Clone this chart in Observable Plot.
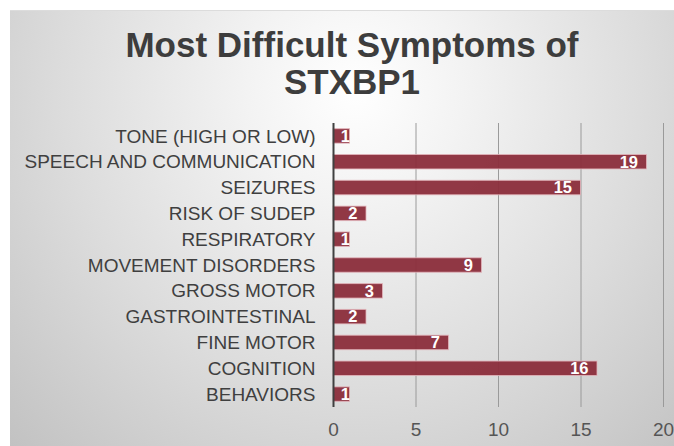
<!DOCTYPE html>
<html>
<head>
<meta charset="utf-8">
<script src="https://cdn.jsdelivr.net/npm/d3@7"></script>
<script src="https://cdn.jsdelivr.net/npm/@observablehq/plot@0.6"></script>
<style>
  html, body { margin: 0; padding: 0; background: #ffffff; }
  body { width: 674px; height: 446px; overflow: hidden; position: relative; }
  #panel {
    position: absolute; left: 10px; top: 10px; width: 664px; height: 436px;
    border-top: 1px solid #dcdcdc; box-sizing: border-box;
    background: radial-gradient(farthest-corner at 52% 18%, #ffffff 0%, #f3f3f3 22%, #dcdcdc 60%, #c2c2c2 100%);
    font-family: "Liberation Sans", Arial, Helvetica, sans-serif;
  }
  #title {
    box-sizing: border-box; height: 99px; padding-top: 15px; padding-left: 20px;
    text-align: center; font-size: 35px; line-height: 37px; font-weight: bold; color: #3d3d3d;
  }
  #chart svg { display: block; background: transparent; }
</style>
</head>
<body>
<div id="panel">
  <div id="title">Most Difficult Symptoms of<br>STXBP1</div>
  <div id="chart"></div>
</div>
<script>
const categories = [
  "TONE (HIGH OR LOW)",
  "SPEECH AND COMMUNICATION",
  "SEIZURES",
  "RISK OF SUDEP",
  "RESPIRATORY",
  "MOVEMENT DISORDERS",
  "GROSS MOTOR",
  "GASTROINTESTINAL",
  "FINE MOTOR",
  "COGNITION",
  "BEHAVIORS"
];
const values = [1, 19, 15, 2, 1, 9, 3, 2, 7, 16, 1];
const xTicks = [0, 5, 10, 15, 20];
const gridTicks = [5, 10, 15, 20];

const data = categories.map((c, i) => ({category: c, value: values[i]}));

const chart = Plot.plot({
  width: 664,
  height: 337,
  marginTop: 13,
  marginBottom: 40,
  marginLeft: 323,
  marginRight: 11,
  style: {fontFamily: "'Liberation Sans', Arial, sans-serif", background: "transparent"},
  x: {domain: [0, 20], ticks: xTicks, label: null},
  y: {domain: categories, label: null, paddingInner: 0.44, paddingOuter: 0.22, round: false},
  marks: [
    Plot.ruleX(gridTicks, {stroke: "#9a9a9a", strokeWidth: 1}),
    Plot.barX(data, {x: "value", y: "category", fill: "#8b2d3b", fillOpacity: 0.95, stroke: "#e3b5bb", strokeWidth: 1, strokeOpacity: 0.8}),
    Plot.ruleX([0], {stroke: "#404040", strokeWidth: 2}),
    Plot.text(data.filter(d => d.value > 1), {x: "value", y: "category", text: d => String(d.value), textAnchor: "end", dx: -9, fill: "white", fontWeight: "bold", fontSize: 16.5}),
    Plot.text(data.filter(d => d.value <= 1), {x: "value", y: "category", text: d => String(d.value), textAnchor: "end", dx: 0, fill: "white", fontWeight: "bold", fontSize: 16.5}),
    Plot.axisY({tickSize: 0, tickPadding: 18, fontSize: 19, color: "#3f3f3f", label: null}),
    Plot.axisX({ticks: xTicks, tickSize: 0, tickPadding: 15, fontSize: 19, color: "#555555", label: null})
  ]
});
document.getElementById("chart").appendChild(chart);
</script>
</body>
</html>
